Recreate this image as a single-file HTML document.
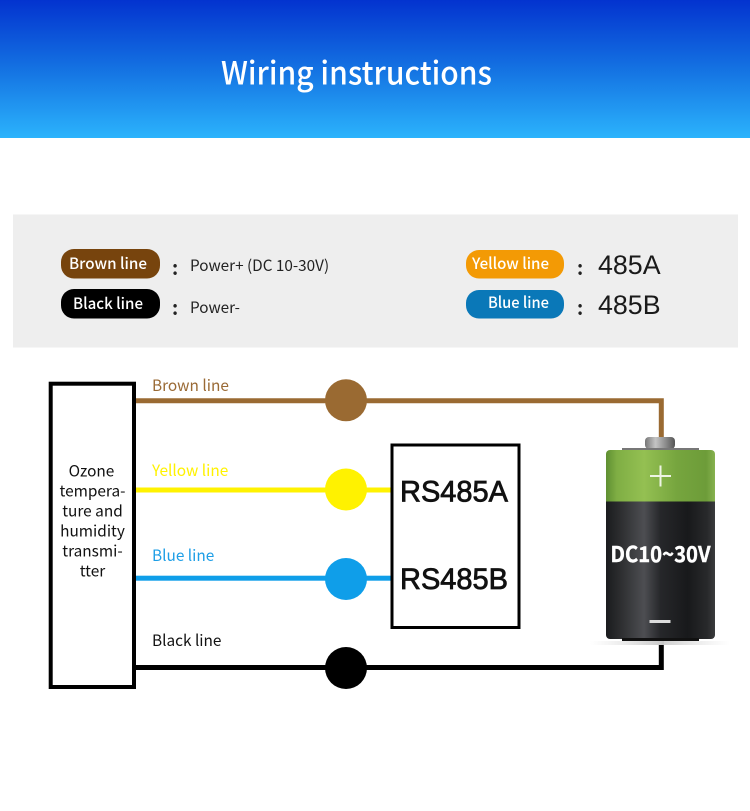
<!DOCTYPE html>
<html>
<head>
<meta charset="utf-8">
<style>
html,body{margin:0;padding:0;background:#fff;width:750px;height:811px;overflow:hidden}
svg{display:block}
text{font-family:"Noto Sans CJK SC","Liberation Sans",sans-serif}
</style>
</head>
<body>
<svg width="750" height="811" viewBox="0 0 750 811" xmlns="http://www.w3.org/2000/svg">
<defs>
<linearGradient id="hd" x1="0" y1="0" x2="0" y2="1">
<stop offset="0" stop-color="#0333cf"/>
<stop offset="0.5" stop-color="#1472e2"/>
<stop offset="1" stop-color="#2bb3fc"/>
</linearGradient>
<linearGradient id="gr" x1="0" y1="0" x2="1" y2="0">
<stop offset="0" stop-color="#5f8f32"/>
<stop offset="0.1" stop-color="#7fae44"/>
<stop offset="0.35" stop-color="#94c052"/>
<stop offset="0.65" stop-color="#76a53e"/>
<stop offset="0.92" stop-color="#6d9c39"/>
<stop offset="1" stop-color="#87b24f"/>
</linearGradient>
<linearGradient id="bk" x1="0" y1="0" x2="1" y2="0">
<stop offset="0" stop-color="#1a1b1d"/>
<stop offset="0.12" stop-color="#2b2c2e"/>
<stop offset="0.35" stop-color="#4d4e52"/>
<stop offset="0.5" stop-color="#26272a"/>
<stop offset="0.75" stop-color="#18191b"/>
<stop offset="0.93" stop-color="#28292b"/>
<stop offset="1" stop-color="#3a3b3d"/>
</linearGradient>
<linearGradient id="cap" x1="0" y1="0" x2="1" y2="0">
<stop offset="0" stop-color="#777"/>
<stop offset="0.35" stop-color="#c4c4c4"/>
<stop offset="0.7" stop-color="#8a8a8a"/>
<stop offset="1" stop-color="#555"/>
</linearGradient>
<linearGradient id="sh" x1="0" y1="0" x2="1" y2="0">
<stop offset="0" stop-color="#ddd" stop-opacity="0"/>
<stop offset="0.5" stop-color="#ccc"/>
<stop offset="1" stop-color="#ddd" stop-opacity="0"/>
</linearGradient>
</defs>

<rect x="0" y="0" width="750" height="138" fill="url(#hd)"/>
<text x="221" y="84.5" font-size="32" font-weight="500" fill="#fff" textLength="271" lengthAdjust="spacingAndGlyphs">Wiring instructions</text>

<rect x="13" y="214.5" width="725" height="133" fill="#eeeeee"/>

<rect x="61" y="249" width="99" height="29.5" rx="13" fill="#77440d"/>
<text x="69" y="269" font-size="15.5" font-weight="500" fill="#fff" textLength="78" lengthAdjust="spacingAndGlyphs">Brown line</text>
<rect x="61" y="289" width="99" height="29.5" rx="13" fill="#000"/>
<text x="73" y="309" font-size="15.5" font-weight="500" fill="#fff" textLength="70" lengthAdjust="spacingAndGlyphs">Black line</text>
<text x="172" y="275" font-size="19" font-weight="700" fill="#222">:</text>
<text x="172" y="315" font-size="19" font-weight="700" fill="#222">:</text>
<text x="190" y="271" font-size="15.3" fill="#222">Power+ (DC 10-30V)</text>
<text x="190" y="313" font-size="15.3" fill="#222">Power-</text>

<rect x="466" y="250" width="98" height="28.5" rx="13" fill="#f39a05"/>
<text x="472" y="269" font-size="15.5" font-weight="500" fill="#fff" textLength="77" lengthAdjust="spacingAndGlyphs">Yellow line</text>
<rect x="466" y="290" width="98" height="28.5" rx="13" fill="#0a78b8"/>
<text x="488" y="308" font-size="15.5" font-weight="500" fill="#fff" textLength="61" lengthAdjust="spacingAndGlyphs">Blue line</text>
<text x="577" y="275" font-size="19" font-weight="700" fill="#222">:</text>
<text x="577" y="315" font-size="19" font-weight="700" fill="#222">:</text>
<text x="598" y="274" font-size="26.8" fill="#1a1a1a" style="font-family:'Liberation Sans',sans-serif">485A</text>
<text x="598" y="314" font-size="26.8" fill="#1a1a1a" style="font-family:'Liberation Sans',sans-serif">485B</text>

<rect x="50.7" y="383.7" width="83.3" height="303.3" fill="#fff" stroke="#000" stroke-width="4"/>
<g font-size="15.4" fill="#111" text-anchor="middle">
<text x="91.5" y="476.5">Ozone</text>
<text x="92.5" y="496.5">tempera-</text>
<text x="92.5" y="516.5">ture and</text>
<text x="92.5" y="536.5">humidity</text>
<text x="92.5" y="556.5">transmi-</text>
<text x="92.5" y="576.5">tter</text>
</g>

<text x="152" y="391" font-size="15.4" fill="#9a6a35">Brown line</text>
<text x="152" y="476" font-size="15.4" fill="#fff200">Yellow line</text>
<text x="152" y="561" font-size="15.4" fill="#1d9ee6">Blue line</text>
<text x="152" y="646" font-size="15.4" fill="#111">Black line</text>

<path d="M136 400.7H661.3V438" fill="none" stroke="#9a6a32" stroke-width="5"/>
<rect x="136" y="487.5" width="255" height="5" fill="#fff200"/>
<rect x="136" y="575.7" width="255" height="5" fill="#0f9ee9"/>
<path d="M136 667.5H661.3V638" fill="none" stroke="#000" stroke-width="5"/>

<circle cx="346" cy="400.3" r="21" fill="#9a6a32"/>
<circle cx="346" cy="489.5" r="21" fill="#fff200"/>
<circle cx="346" cy="579" r="21" fill="#0f9ee9"/>
<circle cx="346" cy="668" r="21" fill="#000"/>

<rect x="392" y="445" width="127" height="182.5" fill="#fff" stroke="#000" stroke-width="3"/>
<text x="400" y="501.5" font-size="30" fill="#111" stroke="#111" stroke-width="0.8" textLength="108" lengthAdjust="spacingAndGlyphs" style="font-family:'Liberation Sans',sans-serif">RS485A</text>
<text x="400" y="589" font-size="30" fill="#111" stroke="#111" stroke-width="0.8" textLength="108" lengthAdjust="spacingAndGlyphs" style="font-family:'Liberation Sans',sans-serif">RS485B</text>

<rect x="590" y="641" width="140" height="4" fill="url(#sh)"/>
<rect x="645" y="437" width="30" height="12" rx="4" fill="url(#cap)"/>
<rect x="622" y="448" width="77" height="3" fill="#777"/>
<path d="M606 503V454a4 4 0 0 1 4-4H711a4 4 0 0 1 4 4V503Z" fill="url(#gr)"/>
<path d="M606 501.5H715V635a4 4 0 0 1-4 4H610a4 4 0 0 1-4-4Z" fill="url(#bk)"/>
<rect x="622" y="638" width="77" height="3" fill="#111"/>
<rect x="650" y="475" width="21" height="2" fill="#eef4e4"/>
<rect x="659.5" y="465.5" width="2" height="21" fill="#eef4e4"/>
<rect x="649.5" y="620" width="21" height="3" fill="#ddd"/>
<text x="660.5" y="562" font-size="21.5" font-weight="700" fill="#fff" stroke="#fff" stroke-width="0.4" text-anchor="middle" textLength="100" lengthAdjust="spacingAndGlyphs">DC10~30V</text>
</svg>
</body>
</html>
